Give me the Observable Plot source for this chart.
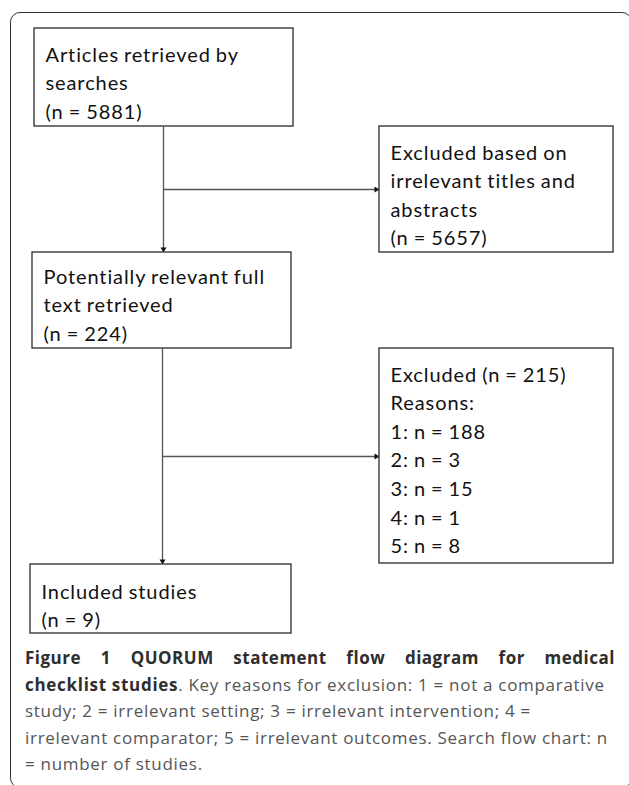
<!DOCTYPE html>
<html>
<head>
<meta charset="utf-8">
<script src="https://cdn.jsdelivr.net/npm/d3@7"></script>
<script src="https://cdn.jsdelivr.net/npm/@observablehq/plot@0.6"></script>
<style>
  html, body { margin: 0; padding: 0; background: #fff; }
  #page { position: relative; width: 629px; height: 785px; overflow: hidden; background: #fff; }
  #chart { position: absolute; left: 0; top: 0; }
  #frame { position: absolute; left: 10px; top: 12px; width: 622px; height: 776px;
           border: 1.5px solid #333; border-radius: 10px; box-sizing: border-box; }
  #caption { position: absolute; left: 25px; top: 645px; width: 590px;
             font-family: "Open Sans", sans-serif; font-size: 17px; line-height: 26.5px;
             color: #555; letter-spacing: 0.7px; }
  #caption b { color: #2e2e2e; font-weight: 700; }
  #caption .line { white-space: nowrap; }
  #caption .just { white-space: normal; text-align: justify; text-align-last: justify; letter-spacing: 0.5px; }
</style>
</head>
<body>
<div id="page">
  <div id="chart"></div>
  <div id="caption"></div>
  <div id="frame"></div>
</div>
<script>
// ---- data ----
const stageLabels = ["Articles retrieved by\nsearches", "Potentially relevant full\ntext retrieved", "Included studies"];
const stageCounts = [5881, 224, 9];
const exclusionLabels = ["Excluded based on\nirrelevant titles and\nabstracts", "Excluded"];
const exclusionCounts = [5657, 215];
const reasonCodes = [1, 2, 3, 4, 5];
const reasonCounts = [188, 3, 15, 1, 8];
const reasonNames = ["not a comparative study", "irrelevant setting", "irrelevant intervention", "irrelevant comparator", "irrelevant outcomes"];

// ---- layout (positions only) ----
const stageLayout = [
  {x1: 34, x2: 293, y1: 28, y2: 126, tx: 45, base: 55},
  {x1: 32, x2: 291, y1: 252, y2: 348, tx: 43, base: 277},
  {x1: 30, x2: 291, y1: 564, y2: 633, tx: 41, base: 592}
];
const exclusionLayout = [
  {x1: 379, x2: 613, y1: 126, y2: 252, tx: 390, base: 153},
  {x1: 379, x2: 613, y1: 348, y2: 563, tx: 390, base: 375}
];
const trunkX = [163, 162];     // vertical connector x for each step
const branchY = [189, 456];    // horizontal branch y for each step

const FS = 20, LH = 28.6;

// ---- build tables ----
const stages = stageLabels.map((label, i) => ({
  ...stageLayout[i],
  text: `${label}\n(n = ${stageCounts[i]})`
}));
const exclusions = exclusionLabels.map((label, i) => ({
  ...exclusionLayout[i],
  text: i === 0
    ? `${label}\n(n = ${exclusionCounts[i]})`
    : `${label} (n = ${exclusionCounts[i]})\nReasons:\n` + reasonCodes.map((c, j) => `${c}: n = ${reasonCounts[j]}`).join("\n")
}));
const boxes = [...stages, ...exclusions];

const trunks = [0, 1].map(i => ({x: trunkX[i], y1: stages[i].y2, y2: stages[i + 1].y1}));
const branches = [0, 1].map(i => ({x1: trunkX[i], x2: exclusions[i].x1, y: branchY[i]}));

const chart = Plot.plot({
  width: 629,
  height: 640,
  margin: 0,
  style: {background: "transparent"},
  x: {domain: [0, 629], range: [0, 629], axis: null},
  y: {domain: [0, 640], range: [0, 640], axis: null},
  marks: [
    Plot.link(trunks, {x1: "x", x2: "x", y1: "y1", y2: d => d.y2 - 3, stroke: "#555", strokeWidth: 1.3}),
    Plot.link(branches, {x1: "x1", x2: d => d.x2 - 3, y1: "y", y2: "y", stroke: "#555", strokeWidth: 1.3}),
    Plot.dot(trunks, {x: "x", y: "y2", symbol: "triangle", r: 2.2, fill: "#111", stroke: null, rotate: 180, dy: -3.3}),
    Plot.dot(branches, {x: "x2", y: "y", symbol: "triangle", r: 2.2, fill: "#111", stroke: null, rotate: 90, dx: -3.3}),
    Plot.rect(boxes, {x1: "x1", x2: "x2", y1: "y1", y2: "y2", fill: "white", stroke: "#2a2a2a", strokeWidth: 1.3}),
    Plot.text(boxes, {
      x: "tx", y: d => d.base - 0.71 * FS, text: "text",
      textAnchor: "start", lineAnchor: "top", lineHeight: LH / FS,
      fontSize: FS, fontFamily: "Lato, sans-serif", fill: "#111"
    })
  ]
});
chart.querySelectorAll("text").forEach(t => { t.style.letterSpacing = "0.9px"; t.style.wordSpacing = "-1px"; });
document.getElementById("chart").appendChild(chart);

// ---- caption ----
const cap = document.getElementById("caption");
cap.innerHTML =
  `<div class="line just"><b>Figure 1 QUORUM statement flow diagram for medical</b></div>` +
  `<div class="line"><b>checklist studies</b>. Key reasons for exclusion: ${reasonCodes[0]} = not a comparative</div>` +
  `<div class="line">study; ${reasonCodes[1]} = ${reasonNames[1]}; ${reasonCodes[2]} = ${reasonNames[2]}; ${reasonCodes[3]} =</div>` +
  `<div class="line">${reasonNames[3]}; ${reasonCodes[4]} = ${reasonNames[4]}. Search flow chart: n</div>` +
  `<div class="line">= number of studies.</div>`;
</script>
</body>
</html>
